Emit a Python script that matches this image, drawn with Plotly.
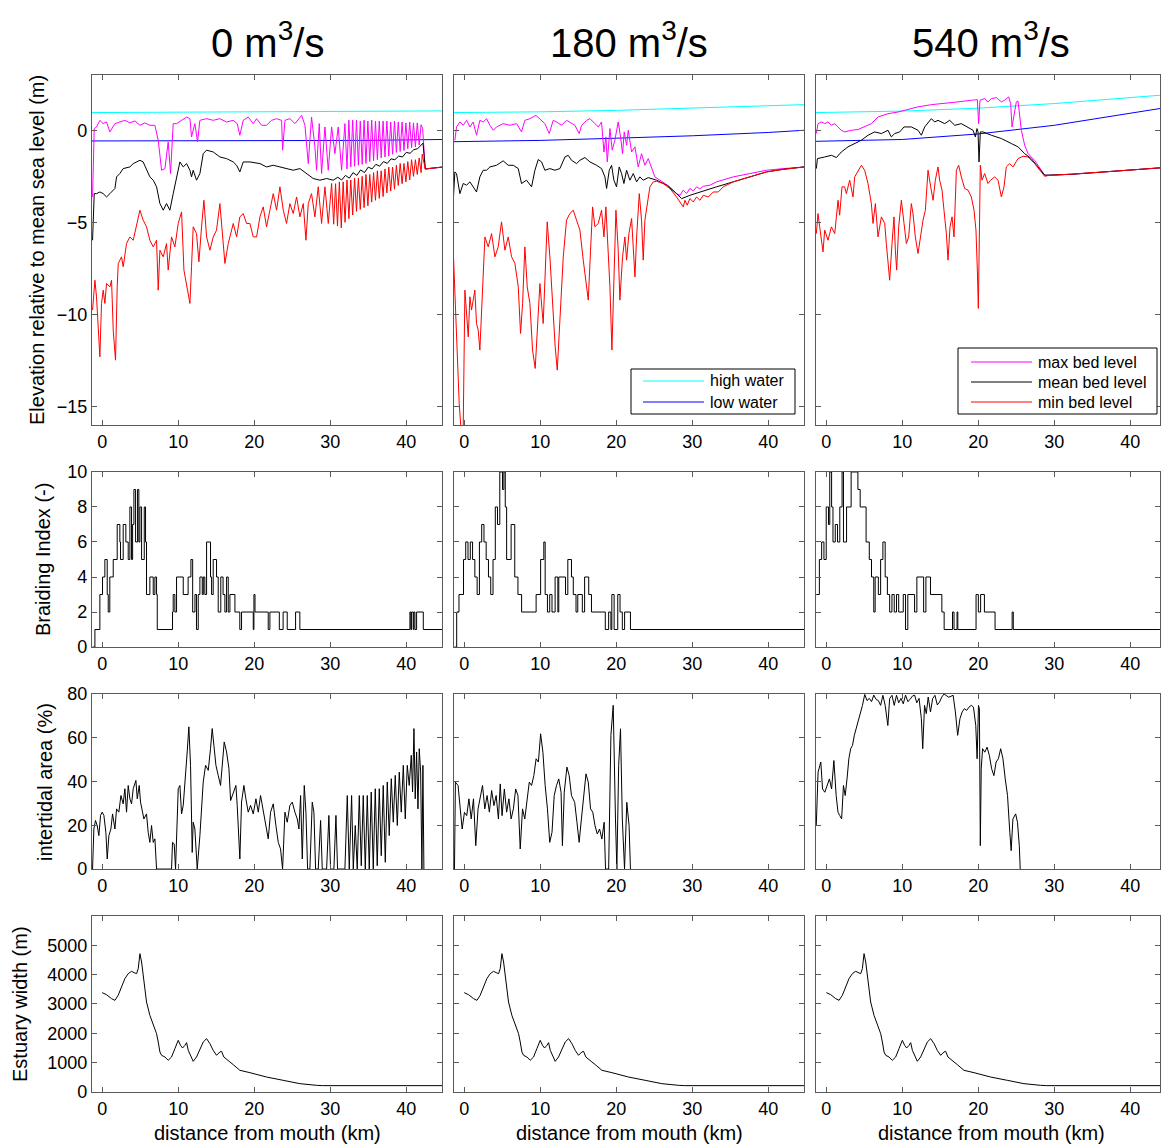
import plotly.graph_objects as go

FONT = "Liberation Sans, Arial, Helvetica, sans-serif"

# ---------------- text ----------------
COL_TITLES = ["0 m<sup>3</sup>/s", "180 m<sup>3</sup>/s", "540 m<sup>3</sup>/s"]
ROW_TITLES = ["Elevation relative to mean sea level (m)", "Braiding Index (-)",
              "intertidal area (%)", "Estuary width (m)"]
X_TITLE = "distance from mouth (km)"
X_TICKS = [0, 10, 20, 30, 40]
Y_TICKS = [[-15, -10, -5, 0], [0, 2, 4, 6, 8, 10], [0, 20, 40, 60, 80],
           [0, 1000, 2000, 3000, 4000, 5000]]
Y_RANGES = [[-16, 3], [0, 10], [0, 80], [0, 6000]]
X_RANGES = [[-1.35, 44.7], [-1.35, 44.7], [-1.37, 43.9]]
LEGEND_WATER = ["high water", "low water"]
LEGEND_BED = ["max bed level", "mean bed level", "min bed level"]

# ---------------- row 1 : water levels (km, m) ----------------
HIGH_0 = [(-1.35, 0.96), (10, 0.98), (20, 1.0), (30, 1.02), (44.7, 1.05)]
LOW_0 = [(-1.35, -0.58), (20, -0.57), (35, -0.55), (44.7, -0.5)]
HIGH_180 = [(-1.35, 0.96), (10, 1.0), (20, 1.08), (30, 1.22), (44.7, 1.39)]
LOW_180 = [(-1.35, -0.62), (10, -0.55), (20, -0.43), (30, -0.3), (40, -0.12), (44.7, 0.0)]
HIGH_540 = [(-1.37, 0.96), (10, 1.04), (20, 1.2), (30, 1.45), (43.9, 1.9)]
LOW_540 = [(-1.37, -0.6), (10, -0.5), (20, -0.2), (30, 0.27), (43.9, 1.18)]

# ---------------- row 1 : bed levels, 0 m3/s ----------------
MAX_0 = [(-1.27, -3.62), (-1.05, 0.09), (-0.75, 0.18), (-0.31, 0.54), (0.13, 0.36), (0.57, 0.45),
         (1.01, -0.09), (1.67, 0.36), (2.32, 0.45), (2.98, 0.54), (3.64, 0.40), (4.30, 0.51),
         (4.96, 0.27), (5.61, 0.40), (6.27, 0.27), (6.93, 0.27), (7.37, -0.54), (7.81, -2.17),
         (8.25, -2.08), (8.68, -0.63), (8.99, -2.35), (9.34, 0.36), (9.78, 0.36), (10.44, 0.54),
         (11.10, 0.72), (11.54, 0.63), (11.75, -0.36), (12.19, 0.36), (12.54, -0.63), (12.85, 0.54),
         (13.73, 0.63), (14.61, 0.54), (15.48, 0.63), (16.36, 0.45), (17.24, 0.54), (17.76, 0.36),
         (18.11, -0.27), (18.55, 0.54), (19.21, 0.72), (19.87, 0.36), (20.31, 0.63), (20.96, 0.27),
         (21.62, 0.27), (22.28, 0.54), (22.94, 0.63), (23.60, 0.54), (23.73, -1.08), (24.04, 0.54),
         (24.69, 0.63), (25.35, 0.36), (25.92, 0.63), (26.23, 0.81), (26.67, 0.27), (27.11, -1.81),
         (27.54, 0.72), (27.98, -0.90), (28.20, -2.17), (28.55, 0.36), (28.86, -2.35), (29.30, 0.18),
         (29.74, -2.17), (30.18, 0.18), (30.61, -1.27), (31.05, 0.18), (31.49, -2.17), (31.93, 0.36),
         (32.2, -2.1), (32.45, 0.55), (32.7, -2.0), (32.95, 0.55), (33.2, -1.95), (33.45, 0.55),
         (33.7, -1.9), (33.95, 0.5), (34.2, -1.85), (34.45, 0.55), (34.7, -1.8), (34.95, 0.5),
         (35.2, -1.7), (35.45, 0.55), (35.7, -1.65), (35.95, 0.5), (36.2, -1.6), (36.45, 0.5),
         (36.7, -1.5), (36.95, 0.5), (37.2, -1.45), (37.45, 0.5), (37.7, -1.4), (37.95, 0.45),
         (38.2, -1.3), (38.45, 0.5), (38.7, -1.2), (38.95, 0.45), (39.2, -1.15), (39.45, 0.45),
         (39.7, -1.1), (39.95, 0.4), (40.2, -1.0), (40.45, 0.45), (40.7, -0.95), (40.95, 0.4),
         (41.2, -0.9), (41.45, 0.4), (41.7, -0.8), (41.95, 0.3), (42.15, 0.1), (42.35, -1.0),
         (42.5, -2.1), (44.7, -2.0)]
MEAN_0 = [(-1.27, -5.97), (-1.05, -3.44), (-0.75, -3.44), (-0.31, -3.35), (0.13, -3.44), (0.57, -3.62),
          (1.01, -3.44), (1.45, -3.25), (1.67, -3.16), (1.89, -2.53), (2.32, -2.35), (2.76, -2.08),
          (3.64, -1.99), (4.08, -1.81), (4.96, -1.63), (5.39, -1.72), (5.83, -2.17), (6.27, -2.53),
          (6.71, -2.71), (7.15, -3.07), (7.59, -3.98), (8.03, -4.34), (8.46, -3.98), (8.90, -4.34),
          (9.34, -3.44), (9.78, -2.53), (10.22, -1.72), (10.66, -1.99), (11.10, -1.81), (11.54, -2.17),
          (11.75, -2.53), (11.97, -2.17), (12.41, -2.71), (12.85, -2.35), (13.29, -1.27), (13.73, -1.08),
          (14.61, -1.18), (15.48, -1.45), (16.36, -1.54), (17.24, -1.72), (17.68, -1.90), (18.11, -2.26),
          (18.55, -1.72), (19.43, -1.72), (20.75, -1.81), (21.62, -1.99), (22.50, -1.90), (23.38, -1.99),
          (24.25, -2.08), (25.13, -2.17), (26.01, -2.08), (26.89, -2.35), (27.76, -2.62), (28.64, -2.71),
          (29.52, -2.62), (30.39, -2.71), (31.0, -2.55), (31.5, -2.7), (32.0, -2.45), (32.5, -2.6),
          (33.0, -2.3), (33.5, -2.45), (34.0, -2.15), (34.5, -2.3), (35.0, -2.0), (35.5, -2.1),
          (36.0, -1.85), (36.5, -1.95), (37.0, -1.7), (37.5, -1.8), (38.0, -1.55), (38.5, -1.6),
          (39.0, -1.4), (39.5, -1.45), (40.0, -1.2), (40.5, -1.25), (41.0, -1.05), (41.5, -1.0),
          (42.0, -0.8), (42.2, -0.7), (42.5, -2.1), (44.7, -2.0)]
MIN_0 = [(-1.27, -9.76), (-0.96, -8.14), (-0.75, -9.04), (-0.53, -10.49), (-0.31, -12.30), (-0.09, -9.40),
         (0.13, -8.68), (0.35, -9.40), (0.57, -8.32), (1.01, -8.50), (1.23, -8.14), (1.45, -10.85),
         (1.75, -12.48), (1.97, -8.50), (2.11, -7.23), (2.54, -6.87), (2.76, -7.41), (3.20, -6.15),
         (3.64, -5.79), (4.08, -5.97), (4.52, -5.06), (4.96, -4.34), (5.39, -4.88), (5.83, -5.24),
         (6.27, -5.97), (6.71, -6.33), (7.15, -5.97), (7.37, -8.68), (7.59, -6.51), (8.03, -6.87),
         (8.46, -6.15), (8.68, -7.59), (9.12, -5.79), (9.56, -6.33), (10.0, -5.06), (10.44, -4.43),
         (10.75, -7.59), (11.10, -8.32), (11.54, -9.40), (11.75, -7.41), (11.97, -5.24), (12.41, -5.61),
         (12.72, -7.14), (13.07, -5.24), (13.38, -3.80), (13.73, -5.79), (14.17, -6.51), (14.61, -5.79),
         (15.04, -5.42), (15.48, -3.98), (15.83, -5.79), (16.14, -7.23), (16.58, -6.15), (17.24, -5.06),
         (17.68, -5.79), (18.11, -4.70), (18.55, -4.52), (18.99, -5.06), (19.43, -5.06), (19.87, -5.79),
         (20.31, -5.79), (20.75, -4.70), (21.18, -4.16), (21.62, -5.24), (22.06, -4.34), (22.50, -3.44),
         (22.94, -4.34), (23.38, -3.07), (23.82, -4.34), (24.25, -5.06), (24.69, -3.98), (25.13, -4.52),
         (25.57, -3.62), (26.01, -4.70), (26.45, -3.98), (26.80, -5.97), (27.11, -3.98), (27.54, -3.44),
         (27.98, -4.70), (28.42, -3.07), (28.86, -5.06), (29.30, -3.07), (29.74, -5.06), (30.18, -2.89),
         (30.45, -5.1), (30.7, -2.9), (30.95, -5.2), (31.2, -2.8), (31.45, -5.3), (31.7, -2.8),
         (31.95, -5.0), (32.2, -2.7), (32.45, -4.8), (32.7, -2.7), (32.95, -4.6), (33.2, -2.6),
         (33.45, -4.4), (33.7, -2.6), (33.95, -4.3), (34.2, -2.5), (34.45, -4.2), (34.7, -2.4),
         (34.95, -4.1), (35.2, -2.4), (35.45, -3.9), (35.7, -2.3), (35.95, -3.8), (36.2, -2.2),
         (36.45, -3.7), (36.7, -2.2), (36.95, -3.6), (37.2, -2.1), (37.45, -3.4), (37.7, -2.0),
         (37.95, -3.3), (38.2, -2.0), (38.45, -3.2), (38.7, -1.9), (38.95, -3.0), (39.2, -1.8),
         (39.45, -2.9), (39.7, -1.8), (39.95, -2.8), (40.2, -1.7), (40.45, -2.7), (40.7, -1.6),
         (40.95, -2.5), (41.2, -1.6), (41.45, -2.4), (41.7, -1.5), (41.95, -2.3), (42.1, -1.3),
         (42.5, -2.1), (44.7, -2.0)]

# ---------------- row 1 : bed levels, 180 m3/s ----------------
MAX_180 = [(-1.23, -0.54), (-1.01, 0.18), (-0.57, 0.45), (-0.13, 0.27), (0.31, 0.54), (0.75, 0.18),
           (1.18, 0.45), (1.62, -0.27), (2.06, 0.54), (2.50, 0.45), (2.94, 0.63), (3.38, 0.27),
           (3.82, 0.0), (4.25, 0.18), (5.13, 0.36), (6.01, 0.27), (6.89, 0.36), (7.54, -0.09),
           (7.98, 0.54), (8.64, 0.63), (9.43, 0.81), (9.96, 0.63), (10.61, 0.36), (11.18, -0.18),
           (11.71, 0.54), (12.15, 0.45), (12.81, 0.27), (13.46, 0.54), (13.90, 0.45), (14.56, 0.27),
           (15.13, -0.18), (15.44, 0.27), (16.10, 0.54), (16.54, 0.63), (17.19, 0.36), (17.63, 0.18),
           (18.07, 0.45), (18.38, -1.18), (18.64, -0.36), (18.82, -1.72), (19.17, 0.09), (19.47, -1.08),
           (19.82, -0.54), (20.26, 0.45), (20.57, -0.36), (20.83, -1.27), (21.05, -0.09), (21.36, -0.81),
           (21.58, 0.0), (22.02, -1.18), (22.46, -0.90), (22.89, -1.99), (23.33, -1.27), (23.77, -1.90),
           (24.21, -1.54), (24.65, -2.08), (25.09, -2.53), (25.75, -2.71), (27.06, -3.07), (27.94, -3.44),
           (28.38, -3.53), (28.82, -3.25), (29.25, -3.44), (29.69, -3.16), (30.13, -3.29), (30.57, -3.07),
           (31.0, -3.18), (31.45, -3.04), (32.32, -2.98), (33.20, -2.80), (35.39, -2.53), (37.59, -2.35),
           (39.78, -2.17), (41.97, -2.08), (44.74, -1.99)]
MEAN_180 = [(-1.45, -3.89), (-1.23, -2.26), (-1.01, -2.35), (-0.57, -3.44), (-0.13, -2.89), (0.31, -2.98),
            (0.75, -2.80), (1.40, -3.25), (1.62, -3.35), (2.06, -2.53), (2.50, -2.17), (2.94, -2.17),
            (3.38, -1.99), (4.25, -1.90), (5.13, -1.66), (5.79, -1.90), (6.45, -1.90), (7.11, -2.08),
            (7.54, -2.89), (8.20, -2.71), (8.86, -3.07), (9.30, -2.17), (9.74, -1.59), (10.18, -1.72),
            (10.61, -2.17), (11.27, -2.08), (11.93, -2.17), (12.59, -2.08), (13.25, -1.45), (13.68, -1.36),
            (14.12, -1.63), (14.78, -1.81), (15.22, -1.63), (15.88, -1.48), (16.54, -1.72), (17.41, -1.90),
            (18.07, -2.08), (18.51, -2.53), (18.73, -3.16), (19.08, -2.17), (19.39, -1.90), (19.69, -2.71),
            (20.04, -3.07), (20.39, -1.99), (20.70, -2.35), (21.01, -2.89), (21.36, -2.17), (21.80, -2.71),
            (22.24, -2.35), (22.68, -2.80), (23.11, -2.53), (23.55, -2.71), (24.21, -2.57), (25.31, -2.71),
            (26.62, -2.98), (27.94, -3.44), (28.60, -3.71), (29.69, -3.53), (31.45, -3.29), (33.20, -3.07),
            (35.39, -2.80), (37.59, -2.53), (39.78, -2.26), (41.97, -2.12), (44.74, -1.99)]
MIN_180 = [(-1.45, -6.42), (-1.01, -11.21), (-0.66, -14.83), (-0.35, -16.64), (-0.13, -16.09), (0.09, -8.68),
           (0.31, -9.76), (0.53, -11.21), (0.75, -9.04), (0.96, -9.76), (1.18, -9.22), (1.40, -8.68),
           (1.62, -10.49), (1.84, -10.85), (2.06, -11.93), (2.28, -9.95), (2.50, -7.59), (2.72, -5.79),
           (3.16, -6.33), (3.60, -5.61), (4.04, -6.87), (4.47, -6.33), (4.91, -4.97), (5.35, -6.51),
           (5.79, -5.79), (6.23, -6.87), (6.67, -7.23), (7.11, -8.50), (7.41, -11.03), (7.68, -9.40),
           (7.98, -6.33), (8.29, -8.50), (8.64, -9.40), (8.99, -11.93), (9.34, -12.93), (9.61, -10.85),
           (9.96, -8.32), (10.39, -10.49), (10.61, -8.50), (10.92, -4.97), (11.27, -6.87), (11.62, -9.40),
           (11.97, -11.75), (12.24, -13.02), (12.59, -10.31), (13.03, -6.87), (13.46, -4.88), (13.90, -4.52),
           (14.34, -4.34), (14.78, -4.88), (15.22, -5.42), (15.66, -7.05), (16.10, -8.32), (16.32, -9.22),
           (16.62, -6.51), (16.89, -4.16), (17.19, -5.24), (17.63, -5.06), (18.07, -4.34), (18.38, -5.79),
           (18.64, -4.16), (18.95, -6.69), (19.17, -8.50), (19.43, -11.93), (19.69, -7.59), (19.96, -4.34),
           (20.26, -6.51), (20.48, -9.22), (20.83, -6.87), (21.14, -5.79), (21.36, -7.05), (21.67, -5.61),
           (22.02, -4.79), (22.24, -6.15), (22.46, -7.96), (22.68, -5.79), (23.03, -3.44), (23.33, -4.88),
           (23.55, -7.05), (23.77, -4.88), (24.08, -3.98), (24.43, -3.07), (24.87, -2.80), (25.31, -2.77),
           (26.18, -2.89), (27.06, -3.16), (27.94, -3.62), (28.38, -3.89), (28.82, -4.16), (29.04, -3.80),
           (29.34, -4.07), (29.69, -3.71), (30.13, -3.89), (30.57, -3.62), (31.01, -3.80), (31.45, -3.53),
           (32.11, -3.62), (32.76, -3.35), (33.42, -3.35), (34.08, -3.07), (35.39, -2.80), (37.59, -2.53),
           (39.78, -2.26), (41.97, -2.12), (44.74, -1.99)]

# ---------------- row 1 : bed levels, 540 m3/s ----------------
MAX_540 = [(-1.32, -0.18), (-1.10, 0.36), (-0.66, 0.45), (-0.22, 0.36), (0.22, 0.45), (0.66, 0.27),
           (1.10, 0.36), (1.54, 0.18), (1.97, 0.0), (2.41, -0.09), (3.29, 0.0), (4.17, 0.04),
           (5.04, 0.18), (5.92, 0.36), (6.80, 0.72), (8.11, 0.90), (9.43, 0.99), (10.31, 1.08),
           (12.06, 1.27), (13.82, 1.39), (15.57, 1.45), (17.32, 1.54), (19.08, 1.63), (19.87, 1.66),
           (20.04, 0.36), (20.22, 1.63), (20.83, 1.72), (21.27, 1.54), (21.71, 1.72), (22.37, 1.77),
           (23.03, 1.54), (23.46, 1.63), (23.99, 1.81), (24.25, 1.45), (24.43, 0.18), (24.69, 0.72),
           (25.0, 1.54), (25.22, 1.59), (25.44, 0.90), (25.66, 0.0), (26.10, -0.81), (26.54, -1.27),
           (27.41, -1.63), (27.85, -1.90), (28.73, -2.44), (29.61, -2.44), (32.24, -2.39), (36.62, -2.26),
           (41.01, -2.13), (43.9, -2.04)]
MEAN_540 = [(-1.32, -2.08), (-1.18, -1.54), (-0.22, -1.45), (0.66, -1.36), (1.32, -1.48), (1.97, -1.18),
            (2.85, -0.90), (3.73, -0.72), (4.61, -0.54), (5.48, -0.27), (6.36, -0.09), (7.24, -0.18),
            (8.11, 0.0), (8.55, -0.36), (8.99, -0.18), (9.65, -0.09), (10.22, 0.18), (11.18, 0.18),
            (12.06, 0.0), (12.50, -0.27), (12.94, 0.18), (13.82, 0.63), (14.25, 0.45), (14.69, 0.54),
            (15.57, 0.36), (16.23, 0.54), (16.89, 0.27), (17.76, 0.36), (18.64, 0.18), (19.30, 0.0),
            (19.61, -0.36), (19.82, 0.09), (19.96, -0.09), (20.09, -1.72), (20.26, -0.09), (20.61, -0.09),
            (21.71, -0.27), (23.03, -0.45), (24.34, -0.72), (25.22, -0.90), (26.10, -1.27), (26.97, -1.54),
            (27.85, -1.99), (28.73, -2.44), (32.24, -2.39), (36.62, -2.26), (41.01, -2.13), (43.9, -2.04)]
MIN_540 = [(-1.32, -5.61), (-1.10, -4.52), (-0.88, -5.24), (-0.44, -6.60), (-0.22, -5.42), (0.22, -5.97),
           (0.66, -5.24), (1.10, -5.61), (1.32, -4.70), (1.54, -3.80), (1.75, -4.61), (2.06, -3.07),
           (2.41, -3.07), (2.63, -3.44), (3.07, -2.71), (3.51, -3.62), (3.73, -2.53), (4.17, -2.17),
           (4.61, -1.90), (5.04, -2.17), (5.48, -2.89), (5.92, -3.98), (6.14, -5.06), (6.45, -3.98),
           (6.80, -5.79), (7.24, -4.70), (7.68, -5.06), (7.89, -6.15), (8.11, -7.05), (8.33, -8.14),
           (8.64, -6.15), (8.90, -4.70), (9.08, -6.51), (9.25, -7.59), (9.52, -5.24), (9.87, -3.80),
           (10.22, -5.06), (10.53, -6.15), (10.83, -5.79), (11.18, -3.98), (11.40, -4.52), (11.71, -5.79),
           (12.06, -6.69), (12.41, -5.61), (12.72, -4.88), (13.03, -4.34), (13.38, -2.17), (13.73, -3.07),
           (14.04, -3.80), (14.34, -2.71), (14.69, -1.99), (14.91, -2.71), (15.22, -3.25), (15.48, -4.34),
           (15.79, -5.61), (16.01, -7.05), (16.27, -5.24), (16.54, -4.70), (16.80, -5.79), (17.11, -2.17),
           (17.41, -1.90), (17.76, -2.53), (18.20, -3.16), (18.64, -3.25), (19.08, -3.62), (19.43, -4.34),
           (19.69, -5.42), (19.87, -7.59), (20.0, -9.67), (20.13, -5.79), (20.26, -1.90), (20.48, -2.71),
           (20.83, -2.35), (21.27, -2.89), (21.62, -2.71), (22.15, -2.53), (22.59, -2.71), (23.03, -3.62),
           (23.38, -3.07), (23.68, -1.99), (24.12, -1.81), (24.56, -1.99), (25.22, -1.54), (25.88, -1.41),
           (26.54, -1.45), (27.41, -1.81), (28.07, -2.17), (28.73, -2.50), (29.17, -2.46), (32.24, -2.39),
           (36.62, -2.26), (41.01, -2.13), (43.9, -2.04)]

# ---------------- row 2 : braiding index (step) ----------------
BI_0 = [(-1.27, 0), (-0.96, 1), (-0.31, 3), (0.04, 4), (0.35, 5), (0.66, 3), (0.79, 2), (1.0, 4),
        (1.45, 5), (1.97, 7), (2.32, 6), (2.41, 5), (2.76, 7), (3.11, 6), (3.42, 5), (3.64, 8),
        (3.86, 5), (4.0, 7), (4.17, 9), (4.39, 6), (4.65, 9), (4.82, 6), (4.96, 8), (5.18, 5),
        (5.53, 8), (5.7, 6), (5.83, 3), (6.27, 4), (6.71, 3), (6.93, 4), (7.15, 3), (7.24, 1),
        (9.25, 2), (9.34, 3), (9.56, 2), (9.78, 4), (10.66, 3), (11.3, 4), (11.67, 5), (11.9, 2),
        (12.2, 3), (12.4, 1), (12.63, 3), (12.85, 4), (13.16, 3), (13.3, 4), (13.5, 3), (13.73, 6),
        (14.25, 4), (14.39, 3), (14.6, 5), (15.04, 4), (15.26, 2), (15.6, 4), (15.9, 3), (16.14, 2),
        (16.36, 4), (16.58, 2), (16.8, 3), (17.46, 2), (18.1, 1), (18.33, 2), (19.87, 1), (19.96, 3),
        (20.1, 2), (21.84, 1), (22.06, 2), (23.3, 1), (23.8, 2), (24.34, 1), (25.44, 2), (26.0, 1),
        (40.48, 2), (40.6, 1), (40.7, 2), (40.92, 1), (41.0, 2), (41.14, 1), (41.36, 2), (42.24, 1),
        (44.7, 1)]
BI_180 = [(-1.28, 0), (-0.99, 2), (-0.69, 3), (-0.09, 5), (0.2, 6), (0.5, 5), (0.8, 6), (1.1, 5),
          (1.4, 4), (1.7, 3), (2.0, 6), (2.3, 7), (2.6, 6), (2.89, 5), (3.19, 4), (3.49, 3),
          (3.79, 5), (4.09, 8), (4.38, 7), (4.68, 10), (5.04, 9), (5.22, 10), (5.4, 8), (5.58, 5),
          (6.17, 7), (6.65, 4), (7.07, 3), (7.55, 2), (9.46, 3), (10.05, 5), (10.47, 6), (10.65, 3),
          (10.95, 2), (11.25, 3), (11.55, 2), (11.96, 4), (12.32, 2), (12.44, 4), (13.33, 3), (13.63, 5),
          (14.11, 4), (14.35, 3), (14.71, 2), (14.94, 3), (15.54, 2), (15.84, 4), (16.38, 3), (16.74, 2),
          (18.56, 1), (19.0, 2), (19.3, 1), (19.42, 3), (19.72, 1), (20.2, 3), (20.5, 2), (20.8, 1),
          (21.1, 2), (21.87, 1), (44.7, 1)]
BI_540 = [(-1.33, 3), (-0.92, 5), (-0.62, 6), (-0.32, 5), (-0.02, 8), (0.28, 7), (0.45, 10), (0.69, 8),
          (0.87, 6), (1.17, 7), (1.47, 6), (1.77, 8), (2.07, 10), (2.25, 6), (2.66, 8), (3.26, 10),
          (4.15, 9), (4.45, 8), (5.23, 6), (5.65, 5), (5.94, 4), (6.24, 2), (6.42, 4), (6.84, 3),
          (7.14, 5), (7.44, 6), (7.74, 4), (8.03, 3), (8.33, 2), (8.63, 3), (8.93, 2), (9.23, 3),
          (9.52, 2), (10.12, 3), (10.42, 1), (10.72, 3), (11.61, 2), (11.91, 4), (12.8, 2), (13.1, 4),
          (13.7, 3), (15.2, 2), (15.5, 1), (16.6, 2), (16.8, 1), (17.2, 2), (17.3, 1), (19.7, 3),
          (20.0, 2), (20.3, 3), (20.8, 2), (22.2, 1), (24.45, 2), (24.6, 1), (43.9, 1)]

# ---------------- row 3 : intertidal area (%) ----------------
IA_0 = [(-1.27, 0), (-1.10, 18.3), (-0.88, 22.2), (-0.66, 19.9), (-0.44, 15.3), (-0.22, 24.5), (0, 26.0),
        (0.22, 24.5), (0.48, 16.8), (0.66, 4.6), (0.88, 15.3), (1.14, 18.3), (1.36, 25.2), (1.67, 18.3),
        (1.89, 27.5), (2.19, 26.0), (2.46, 33.6), (2.76, 29.8), (2.98, 36.7), (3.20, 26.0), (3.42, 38.2),
        (3.64, 32.1), (3.86, 29.8), (4.08, 36.7), (4.43, 40.5), (4.61, 32.1), (4.87, 38.2), (5.04, 30.6),
        (5.31, 26.0), (5.48, 22.9), (5.83, 25.2), (6.05, 16.8), (6.27, 12.2), (6.49, 19.9), (6.71, 12.2),
        (6.93, 13.8), (7.15, 0), (9.12, 0), (9.25, 12.2), (9.47, 11.5), (9.65, 0), (9.78, 18.3),
        (10.0, 36.7), (10.22, 38.2), (10.44, 25.2), (10.66, 29.1), (10.88, 38.2), (11.18, 53.5),
        (11.40, 65.0), (11.62, 47.4), (11.84, 7.6), (11.97, 21.4), (12.19, 18.3), (12.50, 0),
        (12.85, 15.3), (13.07, 26.0), (13.29, 39.8), (13.60, 47.4), (13.95, 45.1), (14.25, 55.0),
        (14.47, 64.2), (14.69, 56.6), (14.96, 47.4), (15.26, 42.8), (15.57, 38.2), (15.83, 48.9),
        (16.05, 58.1), (16.36, 53.5), (16.67, 45.9), (16.89, 31.3), (17.24, 35.2), (17.59, 38.2),
        (17.76, 29.1), (18.11, 4.6), (18.33, 30.6), (18.64, 38.2), (18.90, 32.1), (19.21, 26.0),
        (19.52, 29.1), (19.87, 25.2), (20.22, 32.1), (20.53, 26.0), (20.83, 33.6), (21.18, 26.0),
        (21.54, 19.9), (21.84, 13.8), (22.15, 26.0), (22.50, 29.8), (22.85, 19.9), (23.16, 12.2),
        (23.46, 9.2), (23.73, 0), (24.04, 26.0), (24.34, 21.4), (24.69, 29.1), (25.0, 30.6),
        (25.35, 26.0), (25.66, 22.9), (25.88, 18.3), (26.10, 33.6), (26.32, 4.6), (26.58, 38.2),
        (26.80, 26.0), (27.02, 0), (27.32, 0), (27.63, 30.6), (27.85, 26.0), (28.07, 0), (28.42, 0),
        (28.73, 22.2), (28.95, 0), (29.52, 0), (29.82, 24.5), (30.04, 0), (30.48, 0), (30.75, 24.5),
        (30.96, 0), (31.93, 0), (32.24, 33.6), (32.50, 0), (32.81, 33.6), (33.03, 0), (33.29, 19.9),
        (33.55, 0), (33.82, 33.6), (34.08, 1.5), (34.34, 33.6), (34.61, 0), (34.87, 33.6), (35.13, 0),
        (35.39, 35.2), (35.66, 0), (35.92, 36.7), (36.18, 1.5), (36.45, 36.7), (36.71, 6.1),
        (36.97, 38.2), (37.24, 3.1), (37.50, 39.8), (37.76, 15.3), (38.03, 41.3), (38.29, 21.4),
        (38.55, 42.8), (38.82, 19.9), (39.08, 44.3), (39.34, 26.0), (39.61, 47.4), (39.87, 22.9),
        (40.13, 47.4), (40.39, 38.2), (40.66, 52.0), (40.83, 35.2), (41.01, 64.2), (41.18, 32.1),
        (41.36, 53.5), (41.54, 27.5), (41.71, 55.0), (41.89, 44.3), (42.06, 0), (42.19, 47.4), (42.32, 0)]
IA_180 = [(-1.28, 0), (-1.16, 39.7), (-0.81, 38.2), (-0.57, 30.5), (-0.27, 18.3), (0.03, 25.9),
          (0.33, 24.4), (0.62, 32.1), (0.92, 22.9), (1.22, 32.1), (1.52, 10.7), (1.82, 27.5),
          (2.12, 33.6), (2.41, 38.2), (2.71, 27.5), (3.01, 33.6), (3.31, 26.0), (3.61, 35.9),
          (3.91, 29.0), (4.2, 33.6), (4.5, 22.9), (4.74, 38.9), (4.98, 24.4), (5.28, 36.6),
          (5.58, 26.0), (5.88, 32.1), (6.17, 22.9), (6.47, 27.5), (6.77, 36.6), (7.07, 33.6),
          (7.37, 9.2), (7.67, 27.5), (7.97, 22.9), (8.26, 32.1), (8.56, 39.7), (8.86, 38.2),
          (9.16, 42.7), (9.46, 50.4), (9.76, 48.9), (10.05, 61.8), (10.35, 53.4), (10.65, 38.2),
          (10.95, 27.5), (11.25, 12.2), (11.55, 16.8), (11.84, 33.6), (12.14, 38.2), (12.44, 41.2),
          (12.74, 35.1), (12.92, 10.7), (13.16, 35.1), (13.51, 46.6), (13.81, 42.7), (14.11, 33.6),
          (14.53, 30.5), (14.83, 21.4), (15.12, 12.2), (15.42, 22.9), (15.72, 33.6), (16.02, 43.5),
          (16.32, 39.7), (16.62, 27.5), (16.91, 26.0), (17.21, 19.8), (17.51, 16.0), (17.81, 18.3),
          (18.11, 13.7), (18.41, 21.4), (18.59, 0), (19.0, 0), (19.3, 61.1), (19.6, 74.8),
          (19.9, 22.9), (20.08, 0), (20.32, 47.3), (20.56, 64.1), (20.8, 22.9), (21.09, 0),
          (21.39, 30.5), (21.69, 19.8), (21.87, 0)]
IA_540 = [(-1.33, 19.8), (-1.09, 44.3), (-0.73, 48.9), (-0.50, 36.6), (-0.20, 35.1), (0.10, 38.2),
          (0.40, 41.2), (0.69, 36.6), (0.99, 49.6), (1.29, 33.6), (1.53, 26.0), (1.77, 24.4),
          (2.01, 22.9), (2.25, 38.2), (2.48, 33.6), (2.72, 41.2), (2.96, 50.4), (3.20, 55.0),
          (3.44, 56.5), (3.68, 61.1), (3.92, 64.1), (4.15, 67.2), (4.45, 70.2), (4.75, 74.8),
          (5.05, 79.8), (5.35, 77.0), (5.65, 78.0), (5.95, 76.5), (6.24, 79.5), (6.55, 77.5),
          (6.84, 77.0), (7.14, 74.8), (7.44, 79.4), (7.74, 74.8), (8.09, 65.6), (8.33, 77.9),
          (8.63, 79.4), (8.93, 74.8), (9.23, 79.4), (9.52, 76.0), (9.82, 78.0), (10.12, 75.5),
          (10.42, 79.5), (10.72, 76.5), (11.01, 77.5), (11.31, 79.0), (11.61, 79.5), (11.9, 76.0),
          (12.2, 78.0), (12.5, 68.7), (12.68, 55.0), (12.92, 74.8), (13.15, 71.0), (13.4, 78.6),
          (13.7, 71.8), (13.99, 77.9), (14.29, 79.4), (14.6, 75.0), (14.89, 76.3), (15.19, 78.6),
          (15.49, 80.0), (16.1, 78.5), (16.68, 79.4), (16.98, 71.8), (17.28, 61.1), (17.58, 68.7),
          (17.87, 71.8), (18.17, 73.3), (18.47, 72.5), (18.77, 74.0), (19.07, 74.8), (19.36, 74.0),
          (19.66, 65.6), (19.84, 50.4), (20.02, 74.8), (20.14, 73.3), (20.26, 10.7), (20.38, 45.8),
          (20.56, 55.0), (20.85, 53.4), (21.15, 55.7), (21.45, 51.9), (21.75, 45.8), (22.05, 42.7),
          (22.34, 48.9), (22.64, 50.4), (22.94, 55.0), (23.24, 50.4), (23.54, 41.2), (23.84, 33.6),
          (24.14, 16.8), (24.32, 8.4), (24.55, 22.9), (24.91, 25.2), (25.15, 21.4), (25.39, 10.7),
          (25.51, 0)]

# ---------------- row 4 : estuary width (m), same in all columns ----------------
WIDTH = [(0, 3386), (0.57, 3318), (1.23, 3182), (1.67, 3125), (2.1, 3295), (2.54, 3580), (2.98, 3864),
         (3.42, 4034), (3.86, 4114), (4.3, 4057), (4.52, 4034), (4.74, 4205), (4.96, 4716), (5.18, 4432),
         (5.39, 3977), (5.61, 3523), (5.83, 3068), (6.27, 2614), (6.71, 2273), (7.15, 1989), (7.37, 1705),
         (7.59, 1364), (7.81, 1250), (8.25, 1193), (8.68, 1080), (9.12, 1193), (9.56, 1477), (10.0, 1761),
         (10.3, 1591), (10.57, 1500), (10.88, 1591), (11.1, 1682), (11.32, 1420), (11.62, 1250),
         (11.97, 1045), (12.41, 1193), (12.85, 1477), (13.29, 1705), (13.73, 1818), (14.17, 1648),
         (14.6, 1420), (15.04, 1250), (15.48, 1364), (15.7, 1386), (16.0, 1193), (16.36, 1102),
         (16.8, 1023), (17.24, 932), (17.68, 818), (18.11, 739), (19.43, 659), (21.6, 511), (23.8, 398),
         (26.0, 284), (28.2, 227), (29.0, 216), (44.7, 216)]

# ---------------- layout geometry (paper fractions) ----------------
W, H = 1161, 1145
X_DOM = [[0.0792, 0.3807], [0.3910, 0.6925], [0.7028, 0.9991]]
Y_DOM = [[0.6288, 0.9345], [0.4349, 0.5878], [0.2410, 0.3939], [0.0463, 0.2000]]

CYAN, BLUE, MAGENTA, BLACK, RED = "#00ffff", "#0000ff", "#ff00ff", "#000000", "#ff0000"

fig = go.Figure()


def sfx(r, c):
    i = r * 3 + c + 1
    return "" if i == 1 else str(i)


def add(pairs, r, c, color, name=None, shape="linear"):
    xs = [p[0] for p in pairs]
    ys = [p[1] for p in pairs]
    s = sfx(r, c)
    fig.add_trace(go.Scatter(x=xs, y=ys, mode="lines", line=dict(color=color, width=1, shape=shape),
                             xaxis="x" + s, yaxis="y" + s, name=name, showlegend=False,
                             hoverinfo="skip"))


# row 1
add(HIGH_0, 0, 0, CYAN); add(LOW_0, 0, 0, BLUE)
add(MAX_0, 0, 0, MAGENTA); add(MEAN_0, 0, 0, BLACK); add(MIN_0, 0, 0, RED)
add(HIGH_180, 0, 1, CYAN, LEGEND_WATER[0]); add(LOW_180, 0, 1, BLUE, LEGEND_WATER[1])
add(MAX_180, 0, 1, MAGENTA); add(MEAN_180, 0, 1, BLACK); add(MIN_180, 0, 1, RED)
add(HIGH_540, 0, 2, CYAN); add(LOW_540, 0, 2, BLUE)
add(MAX_540, 0, 2, MAGENTA, LEGEND_BED[0])
add(MEAN_540, 0, 2, BLACK, LEGEND_BED[1])
add(MIN_540, 0, 2, RED, LEGEND_BED[2])
# row 2
add(BI_0, 1, 0, BLACK, shape="hv"); add(BI_180, 1, 1, BLACK, shape="hv"); add(BI_540, 1, 2, BLACK, shape="hv")
# row 3
add(IA_0, 2, 0, BLACK); add(IA_180, 2, 1, BLACK); add(IA_540, 2, 2, BLACK)
# row 4
for c in range(3):
    add(WIDTH, 3, c, BLACK)

layout = dict(
    template="none",
    width=W, height=H, margin=dict(l=0, r=0, t=0, b=0, autoexpand=False),
    paper_bgcolor="white", plot_bgcolor="white",
    font=dict(family=FONT, color="black", size=18),
    showlegend=False,
)
AX_COL = "#5a5a5a"
for r in range(4):
    for c in range(3):
        s = sfx(r, c)
        layout["xaxis" + s] = dict(
            domain=X_DOM[c], range=X_RANGES[c], anchor="y" + s, tickvals=X_TICKS, automargin=False,
            ticks="inside", ticklen=5, tickcolor=AX_COL, showline=True, linecolor=AX_COL,
            linewidth=1, mirror="allticks", showgrid=False, zeroline=False,
            tickfont=dict(size=18, family=FONT, color="black"))
        layout["yaxis" + s] = dict(
            domain=Y_DOM[r], range=Y_RANGES[r], anchor="x" + s, tickvals=Y_TICKS[r], automargin=False,
            ticks="inside", ticklen=5, tickcolor=AX_COL, showline=True, linecolor=AX_COL,
            linewidth=1, mirror="allticks", showgrid=False, zeroline=False,
            showticklabels=(c == 0),
            tickfont=dict(size=18, family=FONT, color="black"))

# ---- legend boxes (MATLAB style: long line samples) ----
shapes = []
ann = []


def px(x):
    return x / W


def py(y):
    return 1 - y / H


def legend_box(x0, y0, x1, y1, line_x0, line_x1, text_x, rows, labels, colors):
    shapes.append(dict(type="rect", xref="paper", yref="paper", x0=px(x0), x1=px(x1),
                       y0=py(y1), y1=py(y0), line=dict(color="black", width=1),
                       fillcolor="white", layer="above"))
    for yy, lab, col in zip(rows, labels, colors):
        shapes.append(dict(type="line", xref="paper", yref="paper", x0=px(line_x0), x1=px(line_x1),
                           y0=py(yy), y1=py(yy), line=dict(color=col, width=1), layer="above"))
        ann.append(dict(text=lab, x=px(text_x), y=py(yy), xref="paper", yref="paper",
                        showarrow=False, xanchor="left", yanchor="middle",
                        font=dict(size=16, family=FONT, color="black")))


legend_box(631, 369, 795, 414, 643, 704, 708, [381, 402], LEGEND_WATER, [CYAN, BLUE])
legend_box(958, 348, 1157, 414, 971, 1032, 1036, [362, 382, 402], LEGEND_BED, [MAGENTA, BLACK, RED])

col_centers = [267 / W, 629 / W, 991 / W]
for c in range(3):
    ann.append(dict(text=COL_TITLES[c], x=col_centers[c], y=py(40), xref="paper", yref="paper",
                    showarrow=False, font=dict(size=40, family=FONT), xanchor="center", yanchor="middle"))
    ann.append(dict(text=X_TITLE, x=col_centers[c], y=py(1133), xref="paper", yref="paper",
                    showarrow=False, font=dict(size=20, family=FONT), xanchor="center", yanchor="middle"))
ytitle_x = [37, 43, 45, 20]
ytitle_y = [250, 560, 782, 1004]
for r in range(4):
    ann.append(dict(text=ROW_TITLES[r], x=px(ytitle_x[r]), y=py(ytitle_y[r]),
                    xref="paper", yref="paper", showarrow=False, textangle=-90,
                    font=dict(size=20, family=FONT), xanchor="center", yanchor="middle"))
layout["annotations"] = ann
layout["shapes"] = shapes

fig.update_layout(**layout)
fig.write_html("out.html")
